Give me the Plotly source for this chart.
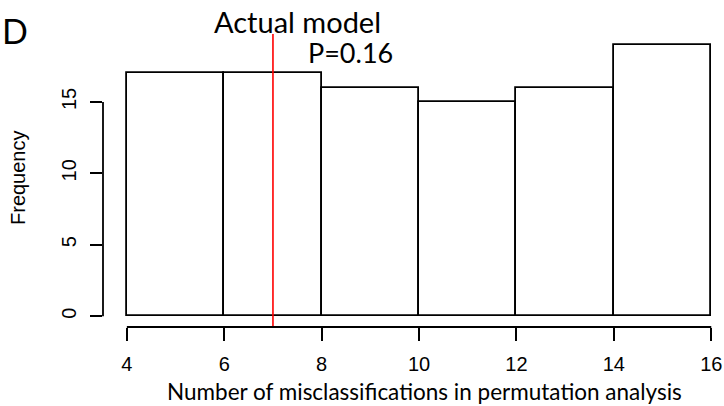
import plotly.graph_objects as go

# ---- data ----
bin_edges = [4, 6, 8, 10, 12, 14, 16]
counts = [17, 17, 16, 15, 16, 19]
actual_value = 7
p_label = "P=0.16"
x_ticks = [4, 6, 8, 10, 12, 14, 16]
y_ticks = [0, 5, 10, 15]

centers = [(a + b) / 2 for a, b in zip(bin_edges[:-1], bin_edges[1:])]
widths = [b - a for a, b in zip(bin_edges[:-1], bin_edges[1:])]

W, Hh = 724, 406
L, R, T, B = 103, 3, 34, 79
PW, PH = W - L - R, Hh - T - B

def px(xp):
    return (xp - L) / PW

def py(yp):
    return (Hh - B - yp) / PH

fig = go.Figure()
fig.add_trace(go.Bar(
    x=centers, y=counts, width=widths,
    marker=dict(color="white", line=dict(color="black", width=1.8)),
    showlegend=False, hoverinfo="x+y",
))

fig.add_shape(type="line", xref="x", yref="paper", x0=actual_value, x1=actual_value,
              y0=0, y1=1, line=dict(color="red", width=1.6), layer="above")
# R-style axis lines spanning the tick range
fig.add_shape(type="line", xref="x", yref="paper", x0=x_ticks[0], x1=x_ticks[-1],
              y0=0, y1=0, line=dict(color="black", width=1.8))
fig.add_shape(type="line", xref="paper", yref="y", x0=0, x1=0,
              y0=y_ticks[0], y1=y_ticks[-1], line=dict(color="black", width=1.8))

calib = "Lato, 'Open Sans', sans-serif"
fig.add_annotation(text="Actual model", xref="paper", yref="paper", x=px(297), y=py(21),
                   showarrow=False, font=dict(family=calib, size=29, color="black"),
                   xanchor="center", yanchor="middle")
fig.add_annotation(text=p_label, xref="paper", yref="paper", x=px(350), y=py(53),
                   showarrow=False, font=dict(family=calib, size=27, color="black"),
                   xanchor="center", yanchor="middle")
fig.add_annotation(text="D", xref="paper", yref="paper", x=px(0), y=py(30),
                   showarrow=False, font=dict(family=calib, size=34, color="black"),
                   xanchor="left", yanchor="middle")
fig.add_annotation(text="Number of misclassifications in permutation analysis",
                   xref="paper", yref="paper", x=px(424.5), y=py(391),
                   showarrow=False, font=dict(family=calib, size=22.5, color="black"),
                   xanchor="center", yanchor="middle")
fig.add_annotation(text="Frequency", xref="paper", yref="paper", x=px(18), y=py(178),
                   showarrow=False, textangle=-90,
                   font=dict(family="Liberation Sans, Arial", size=20, color="black"),
                   xanchor="center", yanchor="middle")

fig.update_layout(
    width=W, height=Hh,
    margin=dict(l=L, r=R, t=T, b=B),
    plot_bgcolor="white", paper_bgcolor="white",
    bargap=0,
    font=dict(family="Liberation Sans, Arial", size=20, color="black"),
    xaxis=dict(range=[3.51, 16.2], tickvals=x_ticks, ticks="outside", ticklen=13,
               tickwidth=1.8, tickcolor="black", showgrid=False, zeroline=False,
               showline=False, ticklabelstandoff=6,
               tickfont=dict(size=20, family="Liberation Sans, Arial")),
    yaxis=dict(range=[-0.76, 19.76], tickvals=y_ticks, ticks="outside", ticklen=12,
               tickwidth=1.8, tickcolor="black", showgrid=False, zeroline=False,
               showline=False, tickangle=-90, ticklabelstandoff=6,
               tickfont=dict(size=20, family="Liberation Sans, Arial")),
)

fig.write_html("out.html", config={"displayModeBar": False},
               post_script="document.body.style.margin='0';document.body.style.overflow='hidden';")
